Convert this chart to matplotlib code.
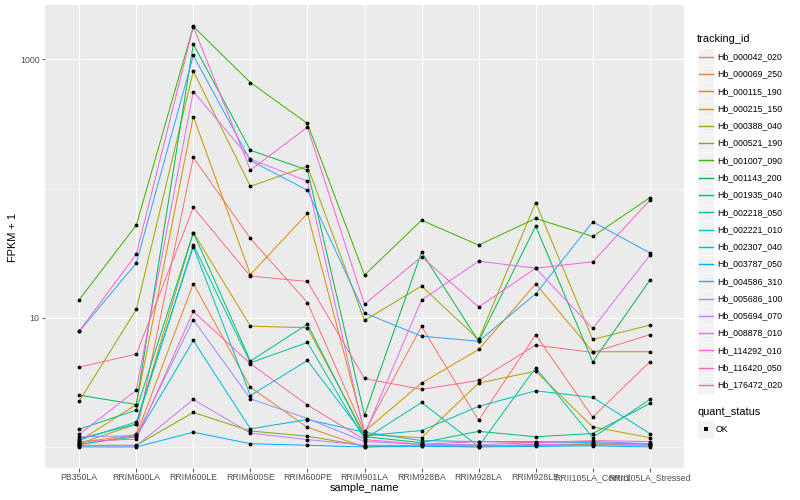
import matplotlib
matplotlib.use('Agg')
import matplotlib.pyplot as plt
from matplotlib.ticker import FixedLocator, NullFormatter
from matplotlib.patches import Rectangle
from matplotlib.lines import Line2D

plt.rcParams['font.family'] = ['Liberation Sans', 'DejaVu Sans']

# --- DATA ---
samples = ['PB350LA', 'RRIM600LA', 'RRIM600LE', 'RRIM600SE', 'RRIM600PE', 'RRIM901LA',
           'RRIM928BA', 'RRIM928LA', 'RRIM928LE', 'RRII105LA_Control', 'RRII105LA_Stressed']

tracking_ids = ['Hb_000042_020', 'Hb_000069_250', 'Hb_000115_190', 'Hb_000215_150',
                'Hb_000388_040', 'Hb_000521_190', 'Hb_001007_090', 'Hb_001143_200',
                'Hb_001935_040', 'Hb_002218_050', 'Hb_002221_010', 'Hb_002307_040',
                'Hb_003787_050', 'Hb_004586_310', 'Hb_005686_100', 'Hb_005694_070',
                'Hb_008878_010', 'Hb_114292_010', 'Hb_116420_050', 'Hb_176472_020']

# ggplot hue palette, 20 levels
colors = ['#F8766D', '#EA8331', '#D89000', '#C09B00', '#A3A500', '#7CAE00', '#39B600',
          '#00BB4E', '#00BF7D', '#00C1A3', '#00BFC4', '#00BAE0', '#00B0F6', '#35A2FF',
          '#9590FF', '#C77CFF', '#E76BF3', '#FA62DB', '#FF62BC', '#FF6C91']

# FPKM + 1 per sample
hb_000042_020 = [1.08, 1.25, 174, 41.1, 13.1, 1.30, 8.57, 1.61, 7.39, 1.70, 4.56]
hb_000069_250 = [1.04, 1.23, 18.4, 2.89, 1.42, 1.00, 1.03, 1.00, 1.05, 1.04, 1.06]
hb_000115_190 = [1.11, 2.13, 361, 21.6, 64.2, 1.32, 3.12, 5.68, 18.3, 5.46, 5.46]
hb_000215_150 = [1.06, 1.50, 45.7, 8.61, 8.37, 1.25, 1.18, 3.12, 3.86, 1.43, 1.18]
hb_000388_040 = [2.26, 11.6, 810, 104, 149, 9.53, 17.6, 6.79, 78, 6.79, 8.76]
hb_000521_190 = [1.03, 1.03, 1.85, 1.33, 1.21, 1.02, 1.02, 1.02, 1.03, 1.04, 1.03]
hb_001007_090 = [13.8, 52.1, 1798, 662, 319, 21.4, 56.9, 36.5, 58.7, 42.6, 85]
hb_001143_200 = [2.52, 2.13, 1311, 198, 139, 1.76, 32.2, 6.58, 51.2, 4.56, 19.5]
hb_001935_040 = [1.37, 1.93, 45.7, 4.62, 8.92, 1.20, 1.08, 1.32, 1.20, 1.27, 2.17]
hb_002218_050 = [1.16, 1.50, 36.7, 4.48, 6.44, 1.15, 2.21, 1.01, 4.10, 1.18, 2.33]
hb_002221_010 = [1.13, 1.56, 35.4, 2.50, 4.67, 1.22, 1.34, 2.06, 2.72, 2.42, 1.27]
hb_002307_040 = [1.05, 1.20, 6.67, 1.38, 1.63, 1.30, 1.12, 1.10, 1.10, 1.08, 1.05]
hb_003787_050 = [1.00, 1.00, 1.30, 1.06, 1.03, 1.00, 1.01, 1.00, 1.01, 1.02, 1.00]
hb_004586_310 = [7.83, 26.5, 1072, 165, 97, 10.9, 7.20, 6.58, 15.3, 55.3, 31.8]
hb_005686_100 = [1.20, 1.22, 9.65, 2.36, 1.66, 1.10, 1.05, 1.04, 1.08, 1.10, 1.06]
hb_005694_070 = [1.02, 1.02, 2.33, 1.28, 1.14, 1.03, 1.03, 1.02, 1.04, 1.06, 1.04]
hb_008878_010 = [1.25, 2.75, 564, 169, 114, 1.25, 13.7, 27.4, 24.2, 8.26, 30.4]
hb_114292_010 = [7.88, 31.1, 1790, 139, 299, 12.7, 29.7, 12.1, 24.2, 27.1, 81]
hb_116420_050 = [1.10, 1.15, 11.2, 4.41, 2.11, 1.14, 1.05, 1.10, 1.08, 1.12, 1.10]
hb_176472_020 = [4.15, 5.23, 71.4, 21.0, 19.1, 3.39, 2.79, 3.27, 6.14, 5.39, 7.39]

series = [hb_000042_020, hb_000069_250, hb_000115_190, hb_000215_150, hb_000388_040,
          hb_000521_190, hb_001007_090, hb_001143_200, hb_001935_040, hb_002218_050,
          hb_002221_010, hb_002307_040, hb_003787_050, hb_004586_310, hb_005686_100,
          hb_005694_070, hb_008878_010, hb_114292_010, hb_116420_050, hb_176472_020]

W, H = 800, 500


def fx(px):
    return px / W


def fy(py):
    return 1 - py / H


fig = plt.figure(figsize=(W / 72, H / 72), dpi=72)
ax = fig.add_axes([fx(45), fy(468), (684 - 45) / W, (468 - 5) / H])
ax.set_facecolor('#EBEBEB')
for sp in ax.spines.values():
    sp.set_visible(False)

xs = list(range(len(samples)))
for vals, col in zip(series, colors):
    ax.plot(xs, vals, color=col, lw=1.0, zorder=2)
for vals in series:
    ax.plot(xs, vals, ls='none', marker='o', ms=3.8, color='black', mew=0, zorder=3)

ax.set_yscale('log')
ax.set_ylim(10 ** -0.163, 10 ** 3.421)
ax.set_xlim(-0.6, len(samples) - 0.4)
ax.yaxis.set_major_locator(FixedLocator([10, 1000]))
ax.yaxis.set_minor_locator(FixedLocator([1, 100]))
ax.yaxis.set_minor_formatter(NullFormatter())
ax.set_yticklabels(['10', '1000'])
ax.set_xticks(xs)
ax.set_xticklabels(samples)

ax.grid(which='major', color='white', lw=1.1)
ax.grid(which='minor', axis='y', color='white', lw=0.55)
ax.set_axisbelow(True)
ax.tick_params(axis='both', which='major', length=3.5, width=0.8, color='#333333',
               labelsize=8.8, labelcolor='#4D4D4D', pad=2)
ax.tick_params(axis='y', which='minor', length=0)

fig.text(fx(364), fy(488), 'sample_name', fontsize=11, ha='center', va='center')
fig.text(fx(13), fy(237), 'FPKM + 1', fontsize=11, ha='center', va='center', rotation=90)

# --- LEGEND ---
fig.text(fx(697), fy(39), 'tracking_id', fontsize=11, ha='left', va='center')
step = 17.28
for i, (name, col) in enumerate(zip(tracking_ids, colors)):
    yc = 56.7 + i * step
    fig.patches.append(Rectangle((fx(697), fy(yc + step / 2)), step / W, step / H,
                                 transform=fig.transFigure, facecolor='#F2F2F2',
                                 edgecolor='white', lw=0.6, zorder=1))
    fig.lines.append(Line2D([fx(698.5), fx(712.8)], [fy(yc), fy(yc)],
                            transform=fig.transFigure, color=col, lw=1.4, zorder=5))
    fig.text(fx(717), fy(yc), name, fontsize=8.8, ha='left', va='center')

fig.text(fx(697), fy(412), 'quant_status', fontsize=11, ha='left', va='center')
fig.patches.append(Rectangle((fx(697), fy(429 + step / 2)), step / W, step / H,
                             transform=fig.transFigure, facecolor='#F2F2F2',
                             edgecolor='white', lw=0.6, zorder=1))
fig.lines.append(Line2D([fx(705.6)], [fy(429)], transform=fig.transFigure,
                        ls='none', marker='s', ms=3.2, color='black', mew=0, zorder=5))
fig.text(fx(716), fy(429), 'OK', fontsize=8.8, ha='left', va='center')

fig.savefig('out.png', dpi=72)
